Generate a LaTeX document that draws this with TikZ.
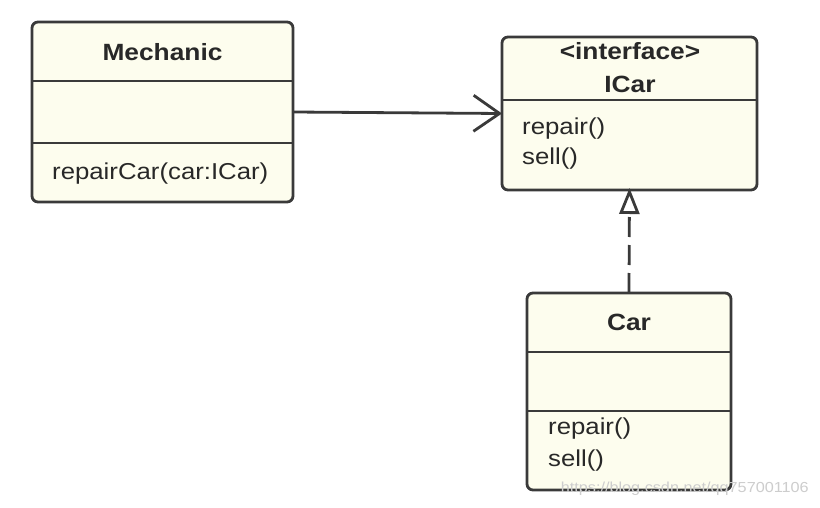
\documentclass[tikz,border=0pt]{standalone}
\usepackage{fontspec}
\setmainfont{Liberation Sans}[FakeStretch=1.12]
\usetikzlibrary{arrows.meta}
\definecolor{boxfill}{RGB}{253,253,238}
\definecolor{stroke}{RGB}{58,58,58}
\definecolor{txt}{RGB}{40,40,40}
\definecolor{wm}{RGB}{205,205,205}
\tikzset{
  umlbox/.style={draw=stroke, fill=boxfill, line width=2.8pt, rounded corners=6pt,
    inner sep=0pt, outer sep=0pt, rectangle},
  divider/.style={draw=stroke, line width=2.6pt},
  title/.style={font=\fontsize{23.5}{26}\selectfont\bfseries, text=txt, inner sep=0pt},
  member/.style={font=\fontsize{23}{26}\selectfont, text=txt, inner sep=0pt, anchor=west},
  assoc/.style={draw=stroke, line width=2.8pt, -{Straight Barb[length=26pt,width=36pt,line width=2.8pt]}},
  realize/.style={draw=stroke, line width=2.8pt, dash pattern=on 20pt off 8pt,
    -{Triangle[open,length=26pt,width=20pt,line width=2.8pt,fill=white]}},
}
\begin{document}
\begin{tikzpicture}[x=1pt,y=-1pt]
\useasboundingbox[fill=white] (0,0) rectangle (820,508);
% Mechanic
\node[umlbox, minimum width=261pt, minimum height=180pt] (mech) at (162.5,112) {};
\draw[divider] (mech.west |- 0,81) -- (mech.east |- 0,81);
\draw[divider] (mech.west |- 0,143) -- (mech.east |- 0,143);
\node[title] (mechT) at (162.5,52) {Mechanic};
\node[member] (mechM) at (52,174) {repairCar(car:ICar)};
% ICar
\node[umlbox, minimum width=255pt, minimum height=153pt] (icar) at (629.5,113.5) {};
\draw[divider] (icar.west |- 0,100) -- (icar.east |- 0,100);
\node[title] (icarS) at (630,51) {<interface>};
\node[title] (icarT) at (630,84) {ICar};
\node[member] (icarM1) at (522,129) {repair()};
\node[member] (icarM2) at (522,159) {sell()};
% Car
\node[umlbox, minimum width=204pt, minimum height=197pt] (car) at (629,391.5) {};
\draw[divider] (car.west |- 0,352) -- (car.east |- 0,352);
\draw[divider] (car.west |- 0,411) -- (car.east |- 0,411);
\node[title] (carT) at (629,322) {Car};
\node[member] (carM1) at (548,429) {repair()};
\node[member] (carM2) at (548,461) {sell()};
% connectors
\draw[assoc] (mech.east) -- (icar.west);
\draw[realize] (car.north) -- ([yshift=2pt]icar.south);
% watermark
\node[font=\fontsize{14.5}{16}\selectfont, text=wm, inner sep=0pt, anchor=east] (wmark) at (809,489) {https://blog.csdn.net/qq757001106};
\end{tikzpicture}
\end{document}
